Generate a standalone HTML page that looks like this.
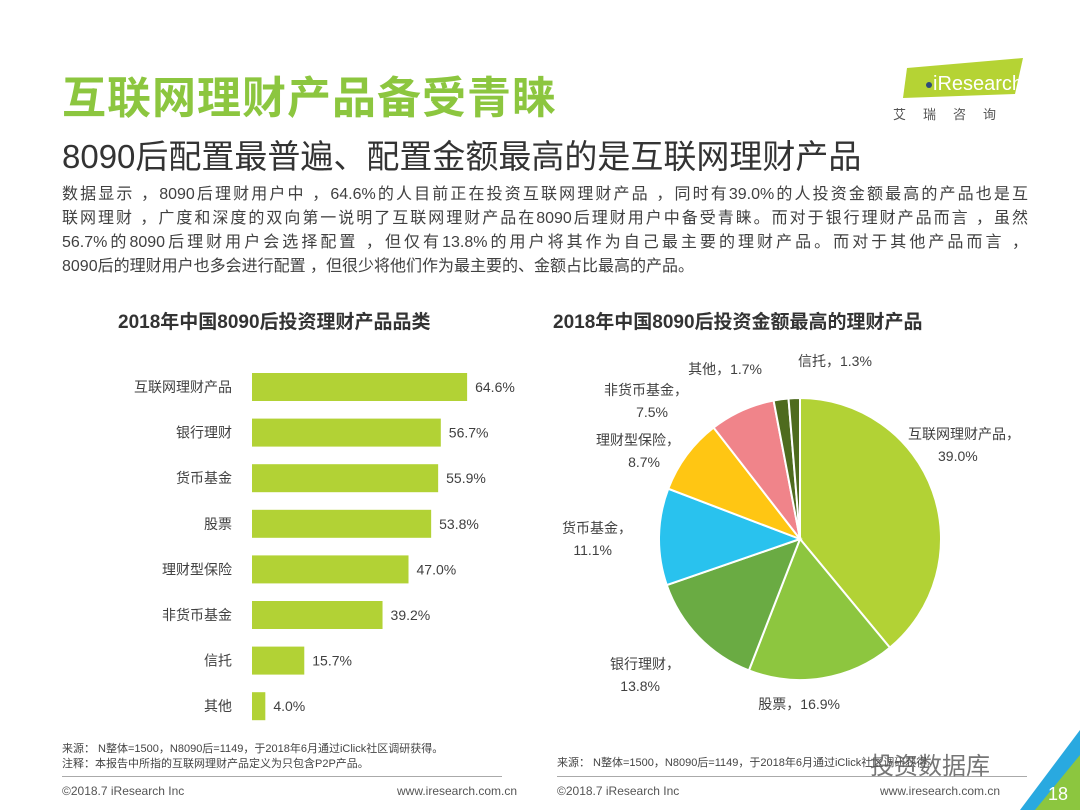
<!DOCTYPE html>
<html><head><meta charset="utf-8">
<style>
*{margin:0;padding:0;box-sizing:border-box}
body{width:1080px;height:810px;background:#fff;position:relative;overflow:hidden;font-family:"Liberation Sans","Noto Sans CJK SC",sans-serif;color:#404040}
.abs{position:absolute;white-space:nowrap}
.ln{display:block;width:966px;text-align:justify;text-align-last:justify;height:24px;white-space:nowrap}
</style></head><body>
<div class="abs" style="left:62px;top:62px;font-size:44px;color:#8cc63f;letter-spacing:1px;font-weight:bold">互联网理财产品备受青睐</div>
<div class="abs" style="left:62px;top:130px;font-size:33px;color:#333">8090后配置最普遍、配置金额最高的是互联网理财产品</div>
<div style="position:absolute;left:893px;top:58px;width:140px;height:70px">
<svg width="140" height="70"><polygon points="14,10 130,0 122,36 10,40" fill="#b5d334"/><circle cx="36" cy="27" r="3" fill="#2d4a7a"/><text x="40" y="32" font-size="20" fill="#fff" font-family="Liberation Sans">iResearch</text><text x="0" y="61" font-size="13" fill="#555" letter-spacing="17">艾瑞咨询</text></svg></div>
<div class="abs" style="left:62px;top:183px;width:966px;font-size:16px;line-height:24px;color:#404040">
<span class="ln">数据显示 ，8090后理财用户中 ，64.6%的人目前正在投资互联网理财产品 ，同时有39.0%的人投资金额最高的产品也是互</span>
<span class="ln">联网理财 ，广度和深度的双向第一说明了互联网理财产品在8090后理财用户中备受青睐。而对于银行理财产品而言 ，虽然</span>
<span class="ln">56.7%的8090后理财用户会选择配置 ，但仅有13.8%的用户将其作为自己最主要的理财产品。而对于其他产品而言 ，</span>
<span class="ln" style="text-align-last:left">8090后的理财用户也多会进行配置 ，但很少将他们作为最主要的、金额占比最高的产品。</span>
</div>
<div class="abs" style="left:118px;top:307px;font-size:19px;font-weight:bold;color:#333">2018年中国8090后投资理财产品品类</div>
<div class="abs" style="left:553px;top:307px;font-size:19px;font-weight:bold;color:#333">2018年中国8090后投资金额最高的理财产品</div>
<svg id="bar" width="540" height="420" style="position:absolute;left:0;top:360px"></svg>
<svg id="pie" width="540" height="400" style="position:absolute;left:540px;top:340px"></svg>
<div class="abs" style="left:62px;top:742px;font-size:11px;line-height:15px;color:#444">来源： N整体=1500，N8090后=1149，于2018年6月通过iClick社区调研获得。<br>注释：本报告中所指的互联网理财产品定义为只包含P2P产品。</div>
<div class="abs" style="left:557px;top:754px;font-size:11px;color:#444">来源： N整体=1500，N8090后=1149，于2018年6月通过iClick社区调研获得。</div>
<div style="position:absolute;left:62px;top:776px;width:440px;height:1px;background:#aaa"></div>
<div style="position:absolute;left:557px;top:776px;width:470px;height:1px;background:#aaa"></div>
<div class="abs" style="left:62px;top:784px;font-size:12px;color:#555">©2018.7 iResearch Inc</div>
<div class="abs" style="left:397px;top:784px;font-size:12px;color:#555">www.iresearch.com.cn</div>
<div class="abs" style="left:557px;top:784px;font-size:12px;color:#555">©2018.7 iResearch Inc</div>
<div class="abs" style="left:880px;top:784px;font-size:12px;color:#555">www.iresearch.com.cn</div>
<div class="abs" style="left:870px;top:746px;font-size:24px;color:#555;opacity:.8">投资数据库</div>
<svg width="60" height="80" style="position:absolute;left:1020px;top:730px"><polygon points="60,0 60,30 20,80 0,80" fill="#29a9e0"/><polygon points="60,25 60,80 15,80" fill="#8cc63f"/><text x="28" y="70" font-size="18" fill="#fff" font-family="Liberation Sans">18</text></svg>
<script>
var NS="http://www.w3.org/2000/svg";
function mk(p,t,a){var e=document.createElementNS(NS,t);for(var k in a)e.setAttribute(k,a[k]);p.appendChild(e);return e;}
var barCats=["互联网理财产品","银行理财","货币基金","股票","理财型保险","非货币基金","信托","其他"];
var barVals=[64.6,56.7,55.9,53.8,47.0,39.2,15.7,4.0];
var pieCats=["互联网理财产品","股票","银行理财","货币基金","理财型保险","非货币基金","其他","信托"];
var pieVals=[39.0,16.9,13.8,11.1,8.7,7.5,1.7,1.3];
var pieColors=["#b2d235","#8dc63f","#6aab43","#29c2ee","#ffc613","#f0848a","#4e6b1e","#4e6b1e"];
var bar=document.getElementById("bar");
function xs(v){return 252+v*3.33;}
function ys(i){return 27+i*45.6;}
barCats.forEach(function(c,i){
 var r=mk(bar,"rect",{x:252,y:ys(i)-14,width:xs(barVals[i])-252,height:28,fill:"#b2d235"});
 
 
 var t=mk(bar,"text",{x:232,y:ys(i)+5,"text-anchor":"end","font-size":14,fill:"#404040"});t.textContent=c;
 
 
 var v=mk(bar,"text",{x:xs(barVals[i])+8,y:ys(i)+5,"font-size":14,fill:"#404040"});v.textContent=barVals[i].toFixed(1)+"%";
 
 
});
var pie=document.getElementById("pie");
var cx=260,cy=199,R=141;
var labelPos=[[368,99,"start"],[300,369,"end"],[140,329,"end"],[92,193,"end"],[140,105,"end"],[148,55,"end"],[222,34,"end"],[258,26,"start"]];
var total=pieVals.reduce(function(a,b){return a+b;},0);
var acc=0;
pieVals.forEach(function(v,i){
 var a0=acc/total*2*Math.PI,a1=(acc+v)/total*2*Math.PI;acc+=v;
 var x0=cx+R*Math.sin(a0),y0=cy-R*Math.cos(a0),x1=cx+R*Math.sin(a1),y1=cy-R*Math.cos(a1);
 var p=mk(pie,"path",{d:"M"+cx+","+cy+"L"+x0+","+y0+"A"+R+","+R+" 0 "+((a1-a0)>Math.PI?1:0)+" 1 "+x1+","+y1+"Z",fill:pieColors[i],stroke:"#fff","stroke-width":2});
 
 
 var lp=labelPos[i];
 var t=mk(pie,"text",{x:lp[0],y:lp[1],"text-anchor":lp[2],"font-size":14,fill:"#404040"});
 
 
 var s=v.toFixed(1)+"%";
 if(i>=6||i==1){t.textContent=pieCats[i]+"，"+s;}
 else{var a=mk(t,"tspan",{x:lp[0]});a.textContent=pieCats[i]+"，";var b=mk(t,"tspan",{x:lp[0]-(lp[2]=="end"?20:-30),dy:22});b.textContent=s;}
});
</script>
</body></html>
